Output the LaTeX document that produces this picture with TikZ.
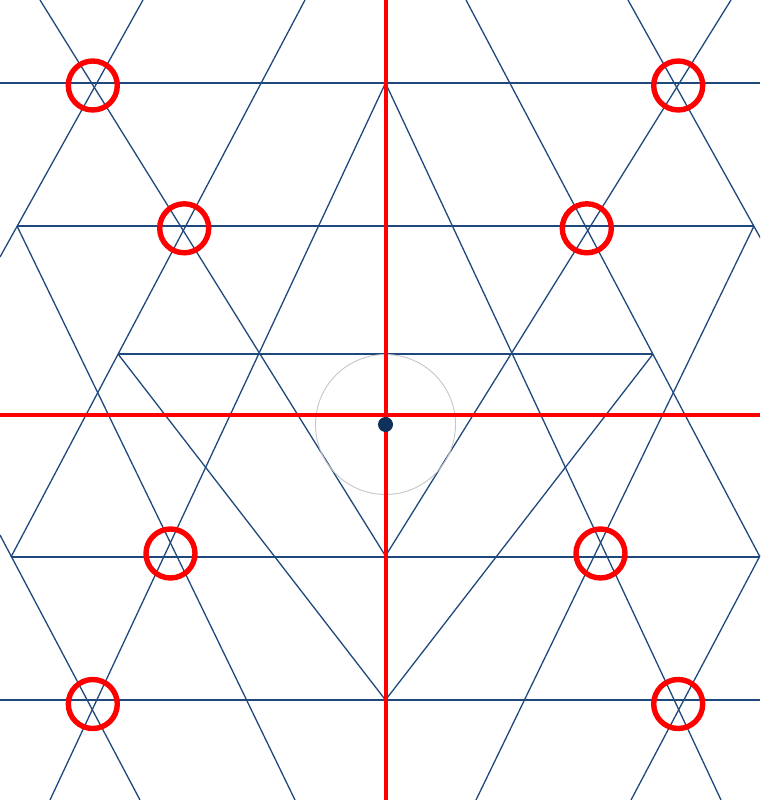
\documentclass[tikz,border=0pt]{standalone}
\definecolor{navy}{RGB}{31,73,125}
\definecolor{darknavy}{RGB}{16,50,90}
\begin{document}
\begin{tikzpicture}[x=1pt,y=-1pt,
  gridstyle/.style={draw=navy,line width=1.3pt},
  axisstyle/.style={draw=red,line width=4pt},
  ringstyle/.style={circle,draw=red,line width=5.4pt,minimum size=49pt,inner sep=0pt},
  dotstyle/.style={circle,fill=darknavy,minimum size=15pt,inner sep=0pt}]
\useasboundingbox (0,0) rectangle (760,800);
\clip (0,0) rectangle (760,800);
% horizontal lines
\foreach \xa/\xb/\y [count=\i] in {0/760/83,17/754/226,118/653/354,11/760/557,0/760/700}
{\coordinate (hl\i) at (\xa,\y); \coordinate (hr\i) at (\xb,\y);
 \draw[gridstyle] (hl\i)--(hr\i);
}
% slanted lines, left half and its mirror image
\foreach \s/\n in {1/L,-1/R}
{\begin{scope}[shift={(385.5,0)},xscale=\s,shift={(-385.5,0)}]
 \foreach \xa/\ya/\xb/\yb [count=\k] in {40/0/385.5/556,143/0/0/257,305/0/11/557,
     385.5/83/50/800,17/226/295/800,118/354/385.5/700,0/535/140/800}
 {\coordinate (p\k\n) at (\xa,\ya); \coordinate (q\k\n) at (\xb,\yb);
  \draw[gridstyle] (p\k\n)--(q\k\n);
 }
 \end{scope}
}
\node[circle,draw=gray!45,line width=0.9pt,minimum size=140pt,inner sep=0pt] (disc) at (385.5,424.5) {};
% red axes
\coordinate (vtop) at (385.5,0); \coordinate (vbot) at (385.5,800);
\coordinate (hleft) at (0,415); \coordinate (hright) at (760,415);
\draw[axisstyle] (vtop)--(vbot) (hleft)--(hright);
\node[dotstyle] (centre) at (385.5,424.5) {};
% circled points
\foreach \x/\y [count=\i] in {92.8/85.5,184.2/228.3,170.5/553.5,92.8/704}
{\node[ringstyle] (ringL\i) at (\x,\y) {};
 \node[ringstyle] (ringR\i) at ({771-\x},\y) {};
}
\end{tikzpicture}
\end{document}
